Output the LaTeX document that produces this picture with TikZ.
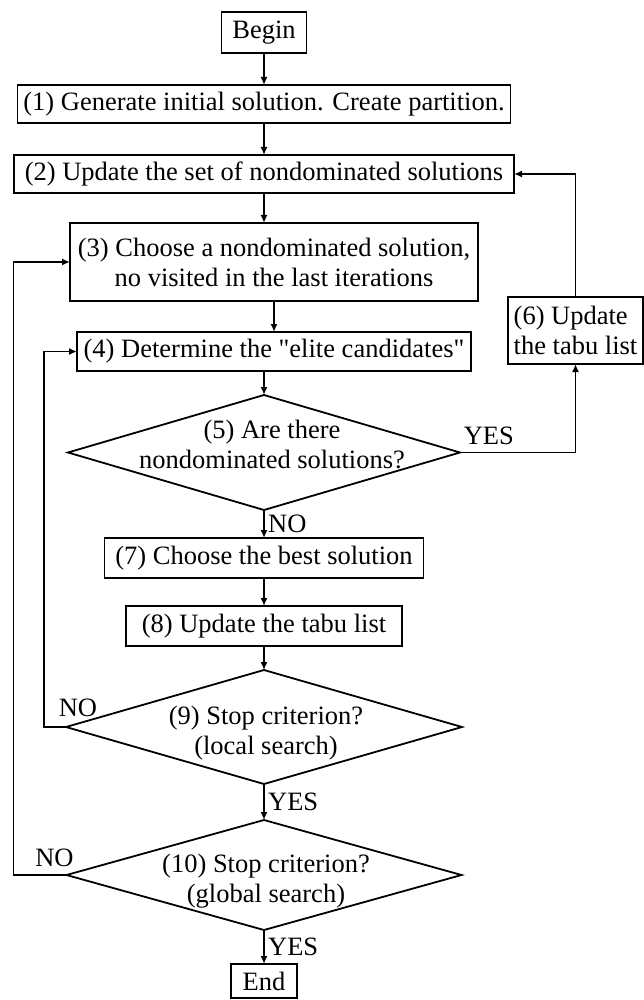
\documentclass[tikz,border=0pt]{standalone}
\usepackage{fontspec}
\setmainfont{Liberation Serif}[Ligatures=TeXOff]
\usetikzlibrary{positioning,shapes.geometric,arrows.meta}

\begin{document}
\begin{tikzpicture}[x=1pt, y=-1pt, font=\fontsize{26.5}{30}\selectfont,
  box/.style={draw, rectangle, line width=1.8pt, inner sep=3pt, outer sep=0pt, align=center},
  decision/.style={draw, diamond, line width=1.8pt, inner sep=0pt, outer sep=0pt},
  qtext/.style={align=center, inner sep=0pt},
  arr/.style={-{Latex[length=8pt,width=7pt]}, line width=1.6pt}]
\useasboundingbox (0,0) rectangle (644,1000);
\node[box, minimum width=85pt, minimum height=41pt] (begin) at (264,32.5) {Begin};
\node[box, minimum width=493pt, minimum height=38pt, below=32pt of begin] (generate) {(1) Generate initial solution. Create partition.};
\node[box, minimum width=500pt, minimum height=38pt, below=32pt of generate] (update) {(2) Update the set of nondominated solutions};
\node[box, minimum width=408pt, minimum height=78pt, below=30pt of update, xshift=10pt] (choose) {(3) Choose a nondominated solution,\\no visited in the last iterations};
\node[box, minimum width=394pt, minimum height=39pt, below=31pt of choose] (elite) {(4) Determine the "elite candidates"};
\node[decision, minimum width=392pt, minimum height=115pt, below=24pt of elite, xshift=-10pt,
  label={[qtext, xshift=8pt, yshift=8pt]center:{(5) Are there\\nondominated solutions?}}] (anynd) {};
\node[box, align=left, minimum width=135pt, minimum height=67pt] (updtabu) at (575.5,330.5) {(6) Update\\the tabu list};
\node[box, minimum width=319pt, minimum height=40pt, below=28pt of anynd] (best) {(7) Choose the best solution};
\node[box, minimum width=276pt, minimum height=40pt, below=28pt of best] (tabu) {(8) Update the tabu list};
\node[decision, minimum width=396pt, minimum height=114pt, below=24pt of tabu,
  label={[qtext, xshift=2pt, yshift=-6pt]center:{(9) Stop criterion?\\(local search)}}] (stoplocal) {};
\node[decision, minimum width=395pt, minimum height=110pt, below=36pt of stoplocal,
  label={[qtext, xshift=2pt, yshift=-6pt]center:{(10) Stop criterion?\\(global search)}}] (stopglobal) {};
\node[box, minimum width=66pt, minimum height=34pt, below=34pt of stopglobal] (finish) {End};

\draw[arr] (begin) -- (generate);
\draw[arr] (generate) -- (update);
\draw[arr] (update) -- (update |- choose.north);
\draw[arr] (choose) -- (elite);
\draw[arr] (elite.south -| anynd) -- (anynd);
\draw[arr] (anynd) -- node[right] {NO} (best);
\draw[arr] (best) -- (tabu);
\draw[arr] (tabu) -- (stoplocal);
\draw[arr] (stoplocal) -- node[right] {YES} (stopglobal);
\draw[arr] (stopglobal) -- node[right] {YES} (finish);
\draw[arr] (anynd.east) -| node[pos=0, anchor=base west, inner sep=0pt, xshift=3pt, yshift=8pt] {YES} (updtabu);
\draw[arr] (updtabu) |- (update);
\draw[arr] (stoplocal.west) -- node[pos=0, anchor=base, inner sep=0pt, xshift=12pt, yshift=11pt] {NO} ++(-22pt,0) |- (elite);
\draw[arr] (stopglobal.west) -- node[pos=0, anchor=base, inner sep=0pt, xshift=-12pt, yshift=9pt] {NO} ++(-53pt,0) |- (choose);
\end{tikzpicture}
\end{document}
